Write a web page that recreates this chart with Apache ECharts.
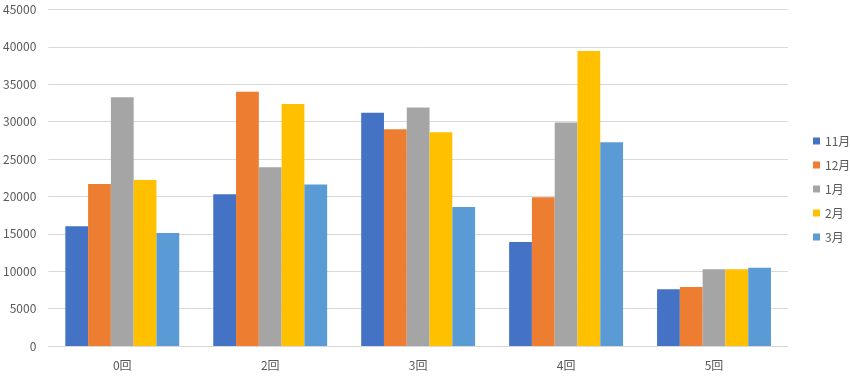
<!DOCTYPE html>
<html><head><meta charset="utf-8">
<script src="https://cdn.jsdelivr.net/npm/echarts@6/dist/echarts.min.js"></script>
<style>html,body{margin:0;padding:0;background:#fff}#c{width:850px;height:380px}</style>
</head><body><div id="c"></div>
<script>
const categories = ['0回','2回','3回','4回','5回'];
const seriesNames = ['11月','12月','1月','2月','3月'];
const s11 = [16000, 20300, 31200, 13900, 7600];
const s12 = [21650, 34000, 29000, 19900, 7900];
const s1  = [33250, 23900, 31900, 29900, 10250];
const s2  = [22200, 32350, 28600, 39450, 10250];
const s3  = [15100, 21600, 18600, 27250, 10450];
const yTicks = [0,5000,10000,15000,20000,25000,30000,35000,40000,45000];
const colors = ['#4472C4','#ED7D31','#A5A5A5','#FFC000','#5B9BD5'];
const data = [s11, s12, s1, s2, s3];
const font = '"Noto Sans CJK JP", "Noto Sans", sans-serif';
const chart = echarts.init(document.getElementById('c'));
chart.setOption({
  animation: false,
  color: colors,
  textStyle: {fontFamily: font},
  grid: {left: 47, right: 62, top: 9.5, bottom: 34, containLabel: false},
  legend: {
    orient: 'vertical', left: 808, top: 130,
    itemWidth: 7, itemHeight: 7, itemGap: 12,
    icon: 'rect',
    textStyle: {fontSize: 12, color: '#595959', fontFamily: font},
    data: seriesNames
  },
  xAxis: {
    type: 'category', data: categories,
    axisLine: {lineStyle: {color: '#D9D9D9'}},
    axisTick: {show: false},
    axisLabel: {color: '#595959', fontSize: 12, margin: 13, fontFamily: font}
  },
  yAxis: {
    type: 'value', min: yTicks[0], max: yTicks[yTicks.length-1], interval: 5000,
    axisLine: {show: false}, axisTick: {show: false},
    axisLabel: {color: '#595959', fontSize: 12, margin: 12, fontFamily: font,
      formatter: v => String(v)},
    splitLine: {lineStyle: {color: '#D9D9D9', width: 1}}
  },
  series: seriesNames.map((n, i) => ({
    name: n, type: 'bar', data: data[i],
    barGap: '0%', barCategoryGap: '23%'
  }))
});
</script></body></html>
